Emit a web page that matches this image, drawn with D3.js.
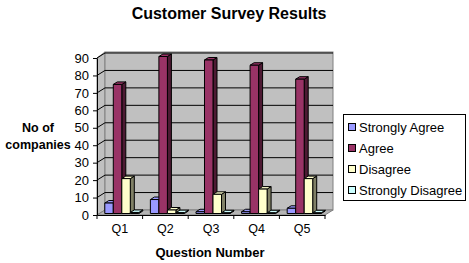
<!DOCTYPE html>
<html>
<head>
<meta charset="utf-8">
<script src="https://cdn.jsdelivr.net/npm/d3@7"></script>
<style>
  body { margin: 0; background: #fff; }
  text { font-family: "Liberation Sans", Arial, sans-serif; }
</style>
</head>
<body>
<div id="chart"></div>
<script>
// data
const questions = ["Q1", "Q2", "Q3", "Q4", "Q5"];
const seriesNames = ["Strongly Agree", "Agree", "Disagree", "Strongly Disagree"];
const stronglyAgree = [6, 8, 1, 1, 3];
const agree = [74, 90, 88, 85, 77];
const disagree = [20, 2, 11, 14, 20];
const stronglyDisagree = [0.6, 0.5, 0.4, 0.4, 0.4];
const yTicks = [0, 10, 20, 30, 40, 50, 60, 70, 80, 90];

const seriesValues = [stronglyAgree, agree, disagree, stronglyDisagree];
const colors = ["#9999ff", "#993366", "#ffffcc", "#ccffff"];
const sideColors = ["#4d4d80", "#4d1a33", "#808066", "#668080"];

const W = 469, H = 263;
const x0 = 97, x1 = 325;      // front floor edge
const dx = 8, dy = -5;        // depth of the plot box

const svg = d3.select("#chart").append("svg")
  .attr("width", W).attr("height", H);

const y = d3.scaleLinear().domain([0, 90]).range([215, 58]);
const x = d3.scaleBand().domain(questions).range([x0, x1]).padding(0);
const xs = d3.scaleBand().domain(seriesNames).range([0, x.bandwidth()])
  .paddingInner(0).paddingOuter(0.68);

// side wall + back wall
svg.append("path")
  .attr("d", `M${x0},${y(0)}L${x0 + dx},${y(0) + dy}L${x0 + dx},${y(90) + dy - 1}L${x0},${y(90)}Z`)
  .attr("fill", "#c0c0c0").attr("stroke", "#808080");
svg.append("rect")
  .attr("x", x0 + dx).attr("y", y(90) + dy - 1)
  .attr("width", x1 - x0).attr("height", y(0) - y(90) + 1)
  .attr("fill", "#c0c0c0").attr("stroke", "#808080");

// floor
svg.append("path")
  .attr("d", `M${x0},${y(0)}L${x1},${y(0)}L${x1 + dx},${y(0) + dy}L${x0 + dx},${y(0) + dy}Z`)
  .attr("fill", "#b4b4b4").attr("stroke", "#808080");

// gridlines on the wall, diagonal ticks on the side wall
const grid = svg.append("g");
yTicks.filter(d => d > 0).forEach(d => {
  grid.append("line")
    .attr("x1", x0 + dx).attr("x2", x1 + dx)
    .attr("y1", y(d) + dy).attr("y2", y(d) + dy)
    .attr("stroke", "#000");
  grid.append("line")
    .attr("x1", x0).attr("x2", x0 + dx)
    .attr("y1", y(d)).attr("y2", y(d) + dy)
    .attr("stroke", "#000");
});

// bars
const ox = 2, oy = -1.5, bd = 4, bdy = -2.5;
const bars = svg.append("g");
questions.forEach((q, qi) => {
  seriesNames.forEach((s, si) => {
    const v = seriesValues[si][qi];
    const bx = x(q) + xs(s) + ox;
    const bw = xs.bandwidth();
    const yb = y(0) + oy, yt = y(v) + oy;
    const g = bars.append("g").attr("stroke", "#000").attr("stroke-width", 1)
      .attr("stroke-linejoin", "round");
    // side
    g.append("path")
      .attr("d", `M${bx + bw},${yb}L${bx + bw + bd},${yb + bdy}L${bx + bw + bd},${yt + bdy}L${bx + bw},${yt}Z`)
      .attr("fill", sideColors[si]);
    // top
    g.append("path")
      .attr("d", `M${bx},${yt}L${bx + bw},${yt}L${bx + bw + bd},${yt + bdy}L${bx + bd},${yt + bdy}Z`)
      .attr("fill", colors[si]);
    // front
    g.append("rect")
      .attr("x", bx).attr("y", yt)
      .attr("width", bw).attr("height", yb - yt)
      .attr("fill", colors[si]);
  });
});

// y axis
const yAxis = svg.append("g").attr("transform", `translate(${x0},0)`)
  .call(d3.axisLeft(y).tickValues(yTicks).tickSize(4).tickSizeOuter(0));
yAxis.select(".domain").attr("stroke", "#000");
yAxis.selectAll("text").attr("font-size", 13).attr("fill", "#000")
  .attr("font-family", "Liberation Sans, Arial, sans-serif").attr("dx", -1);

// x axis
const xAxis = svg.append("g").attr("transform", `translate(0,${y(0)})`)
  .call(d3.axisBottom(x).tickSize(0).tickSizeOuter(0));
xAxis.select(".domain").attr("stroke", "#000");
xAxis.selectAll("text").attr("font-size", 12.5).attr("fill", "#000")
  .attr("font-family", "Liberation Sans, Arial, sans-serif").attr("dy", "1.2em");
xAxis.selectAll(".sep").data(d3.range(questions.length + 1)).join("line")
  .attr("x1", i => x0 + i * x.step()).attr("x2", i => x0 + i * x.step())
  .attr("y1", 0).attr("y2", 4).attr("stroke", "#000");

// titles
svg.append("text").attr("x", 229).attr("y", 19)
  .attr("text-anchor", "middle").attr("font-size", 16).attr("font-weight", "bold")
  .text("Customer Survey Results");
svg.append("text").attr("x", 210).attr("y", 257)
  .attr("text-anchor", "middle").attr("font-size", 13).attr("font-weight", "bold")
  .text("Question Number");
svg.append("text").attr("x", 38).attr("y", 132)
  .attr("text-anchor", "middle").attr("font-size", 12.5).attr("font-weight", "bold")
  .text("No of");
svg.append("text").attr("x", 38).attr("y", 149)
  .attr("text-anchor", "middle").attr("font-size", 12.5).attr("font-weight", "bold")
  .text("companies");

// legend
const legend = svg.append("g").attr("transform", "translate(343,114)");
legend.append("rect").attr("x", 0.5).attr("y", 0.5).attr("width", 122).attr("height", 86)
  .attr("fill", "#fff").attr("stroke", "#000");
const li = legend.selectAll(".item").data(seriesNames).join("g")
  .attr("transform", (d, i) => `translate(5,${13 + i * 21})`);
li.append("rect").attr("x", 0.5).attr("y", -3.5).attr("width", 7).attr("height", 7)
  .attr("fill", (d, i) => colors[i]).attr("stroke", "#000");
li.append("text").attr("x", 11).attr("y", 0).attr("dy", "0.35em")
  .attr("font-size", 13).text(d => d);
</script>
</body>
</html>
